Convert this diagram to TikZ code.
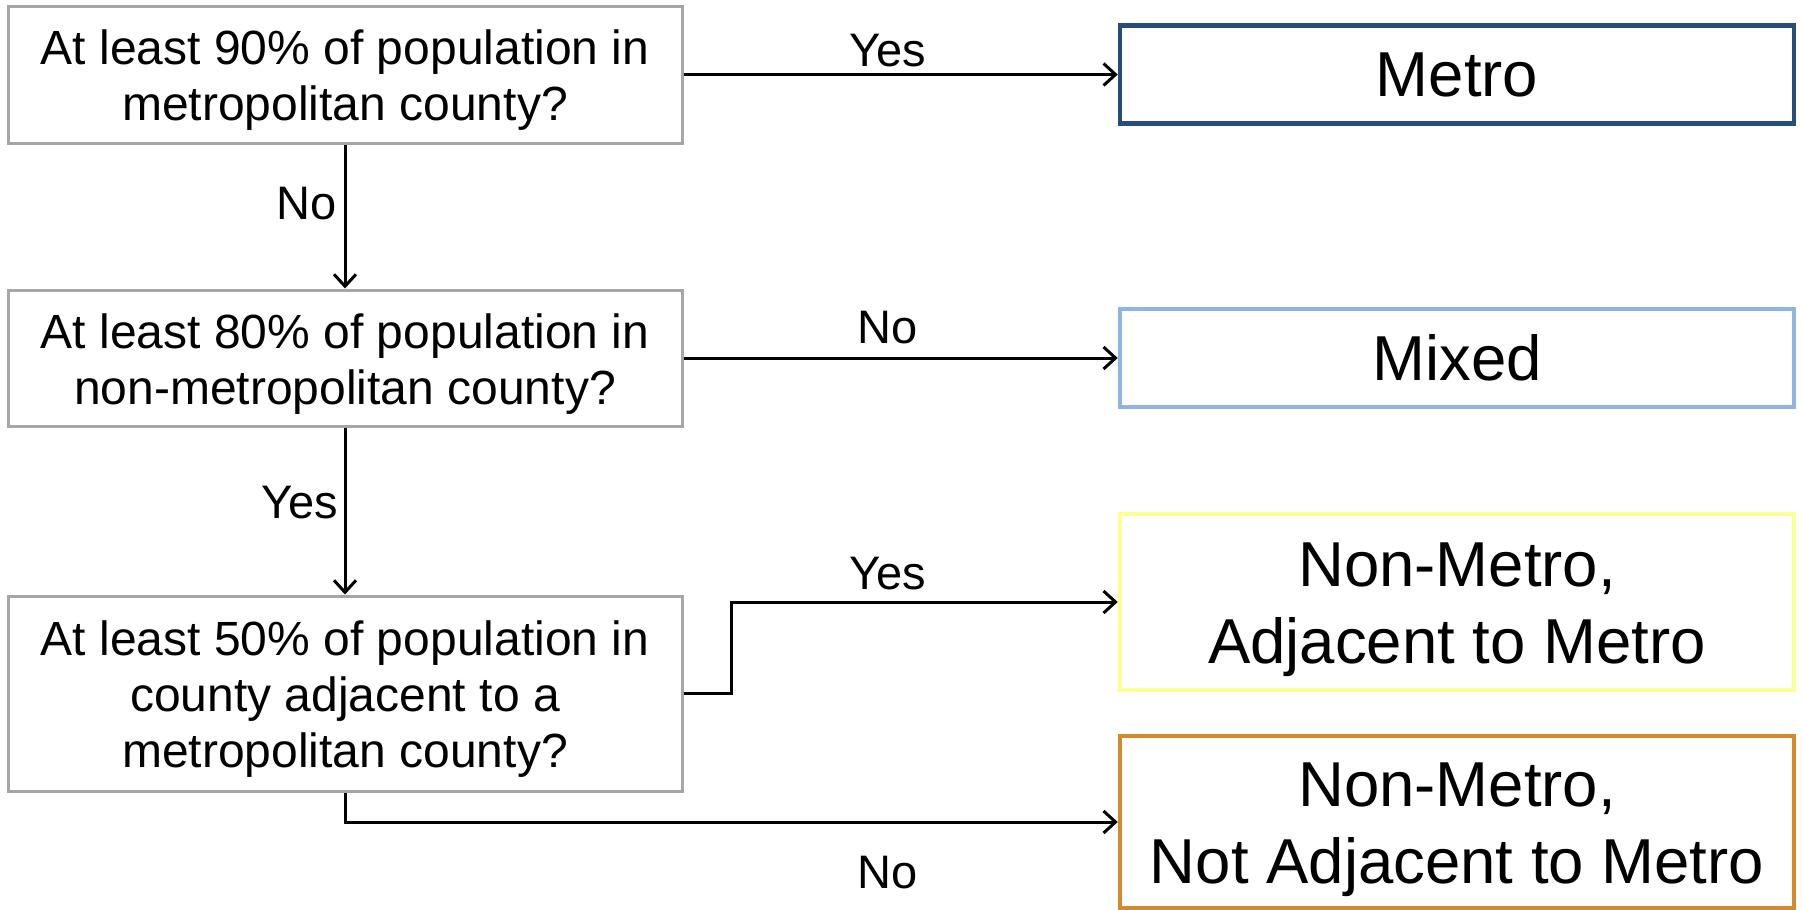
\documentclass[tikz,border=0pt]{standalone}
\usepackage{fontspec}
\setmainfont{Liberation Sans}
\usetikzlibrary{arrows.meta}
\definecolor{qgray}{RGB}{166,166,166}
\definecolor{metroblue}{RGB}{37,77,125}
\definecolor{mixblue}{RGB}{141,180,226}
\definecolor{adjyellow}{RGB}{255,255,153}
\definecolor{nadjorange}{RGB}{212,138,43}
\newcommand{\qtop}{\rule{0pt}{46pt}}
\newcommand{\rtop}{\rule{0pt}{60pt}}
\tikzset{
  qbox/.style={draw=qgray, line width=3pt, rectangle, minimum width=674pt, align=center, inner sep=0pt, font=\fontsize{48}{56}\selectfont},
  rbox/.style={rectangle, line width=4.5pt, minimum width=674pt, align=center, inner sep=0pt, font=\fontsize{63.5}{77}\selectfont},
  arr/.style={line width=3pt, -{Straight Barb[length=12pt, width=22pt, line width=3pt]}},
  lbl/.style={inner sep=0pt, font=\fontsize{47}{56}\selectfont}
}
\begin{document}
\begin{tikzpicture}[x=1pt, y=-1pt]
\useasboundingbox (0,0) rectangle (1802,910);
\node[qbox, minimum height=137pt] (q1) at (345,74.5) {\qtop At least 90\% of population in\\metropolitan county?};
\node[qbox, minimum height=136pt] (q2) at (345,358) {\qtop At least 80\% of population in\\non-metropolitan county?};
\node[qbox, minimum height=195pt] (q3) at (345,693.5) {\qtop At least 50\% of population in\\county adjacent to a\\metropolitan county?};
\node[rbox, draw=metroblue, minimum height=98pt] (metro) at (1457,74.5) {Metro};
\node[rbox, draw=mixblue, minimum height=98pt] (mixed) at (1457,358) {Mixed};
\node[rbox, draw=adjyellow, minimum height=176pt] (adj) at (1457,602) {\rtop Non-Metro,\\Adjacent to Metro};
\node[rbox, draw=nadjorange, minimum height=172pt] (nadj) at (1457,822) {\rtop Non-Metro,\\Not Adjacent to Metro};
\draw[arr] (q1.east) -- (metro.west);
\draw[arr] (q2.east) -- (mixed.west);
\draw[arr] (q1.south) -- (q2.north);
\draw[arr] (q2.south) -- (q3.north);
\draw[arr] (q3.east) -- ++(48,0) |- (adj.west);
\draw[arr] (q3.south) |- (nadj.west);
\node[lbl] (l1) at (888,51) {Yes};
\node[lbl] (l2) at (888,328) {No};
\node[lbl] (l3) at (888,574) {Yes};
\node[lbl] (l4) at (888,873) {No};
\node[lbl] (l5) at (307,204) {No};
\node[lbl] (l6) at (300,503) {Yes};
\end{tikzpicture}
\end{document}
